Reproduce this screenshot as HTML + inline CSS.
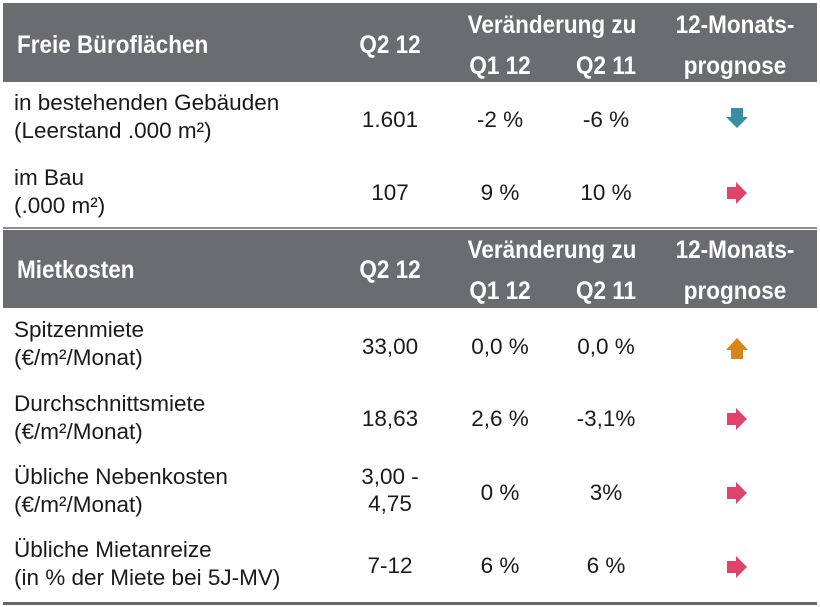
<!DOCTYPE html>
<html><head><meta charset="utf-8"><style>
body{margin:0;width:820px;height:607px;background:#fff;position:relative;overflow:hidden;font-family:"Liberation Sans",Arial,sans-serif;color:#1a1a1a}
.band{position:absolute;left:3px;width:814px;background:#6b6c6f}
.t{position:absolute;font-size:22.5px;line-height:28px;white-space:nowrap}
.h{color:#fff;font-weight:bold;font-size:25px;transform:scaleX(0.9);transform-origin:left center}
.c{transform:translateX(-50%);text-align:center}
.h.c{transform:translateX(-50%) scaleX(0.9);transform-origin:center center}
.line{position:absolute;left:3px;width:814px;height:2px;background:#8a8a8a}
svg{position:absolute}
</style></head><body>
<div class="band" style="top:3px;height:79px"></div>
<div class="band" style="top:230px;height:78px"></div>
<div class="line" style="top:227px"></div>
<div class="line" style="top:602px;height:3px;background:#666"></div>

<div class="t h" style="left:17px;top:31px">Freie Büroflächen</div>
<div class="t h c" style="left:390px;top:31px">Q2 12</div>
<div class="t h c" style="left:552px;top:11px">Veränderung zu</div>
<div class="t h c" style="left:500px;top:52px">Q1 12</div>
<div class="t h c" style="left:606px;top:52px">Q2 11</div>
<div class="t h c" style="left:735px;top:11px">12-Monats-</div>
<div class="t h c" style="left:735px;top:52px">prognose</div>

<div class="t" style="left:14px;top:89px">in bestehenden Gebäuden<br>(Leerstand .000 m²)</div>
<div class="t c" style="left:390px;top:106px">1.601</div>
<div class="t c" style="left:500px;top:106px">-2 %</div>
<div class="t c" style="left:606px;top:106px">-6 %</div>
<svg style="left:725px;top:106px" width="24" height="24" viewBox="0 0 24 24"><path d="M6 2h12v9h5L12 22 1 11h5z" fill="#3b8ea2"/></svg>

<div class="t" style="left:14px;top:164px">im Bau<br>(.000 m²)</div>
<div class="t c" style="left:390px;top:179px">107</div>
<div class="t c" style="left:500px;top:179px">9 %</div>
<div class="t c" style="left:606px;top:179px">10 %</div>
<svg style="left:725px;top:181px" width="24" height="24" viewBox="0 0 24 24"><path d="M2 6h9V1l11 11-11 11v-5H2z" fill="#e0446a"/></svg>

<div class="t h" style="left:17px;top:256px">Mietkosten</div>
<div class="t h c" style="left:390px;top:256px">Q2 12</div>
<div class="t h c" style="left:552px;top:236px">Veränderung zu</div>
<div class="t h c" style="left:500px;top:277px">Q1 12</div>
<div class="t h c" style="left:606px;top:277px">Q2 11</div>
<div class="t h c" style="left:735px;top:236px">12-Monats-</div>
<div class="t h c" style="left:735px;top:277px">prognose</div>

<div class="t" style="left:14px;top:316px">Spitzenmiete<br>(€/m²/Monat)</div>
<div class="t c" style="left:390px;top:333px">33,00</div>
<div class="t c" style="left:500px;top:333px">0,0 %</div>
<div class="t c" style="left:606px;top:333px">0,0 %</div>
<svg style="left:725px;top:336px" width="24" height="24" viewBox="0 0 24 24"><path d="M6 23h12v-9h5L12 2 1 14h5z" fill="#d98418"/></svg>

<div class="t" style="left:14px;top:390px">Durchschnittsmiete<br>(€/m²/Monat)</div>
<div class="t c" style="left:390px;top:405px">18,63</div>
<div class="t c" style="left:500px;top:405px">2,6 %</div>
<div class="t c" style="left:606px;top:405px">-3,1%</div>
<svg style="left:725px;top:407px" width="24" height="24" viewBox="0 0 24 24"><path d="M2 6h9V1l11 11-11 11v-5H2z" fill="#e0446a"/></svg>

<div class="t" style="left:14px;top:463px">Übliche Nebenkosten<br>(€/m²/Monat)</div>
<div class="t c" style="left:390px;top:463px;line-height:27px">3,00 -<br>4,75</div>
<div class="t c" style="left:500px;top:479px">0 %</div>
<div class="t c" style="left:606px;top:479px">3%</div>
<svg style="left:725px;top:481px" width="24" height="24" viewBox="0 0 24 24"><path d="M2 6h9V1l11 11-11 11v-5H2z" fill="#e0446a"/></svg>

<div class="t" style="left:14px;top:536px">Übliche Mietanreize<br>(in % der Miete bei 5J-MV)</div>
<div class="t c" style="left:390px;top:552px">7-12</div>
<div class="t c" style="left:500px;top:552px">6 %</div>
<div class="t c" style="left:606px;top:552px">6 %</div>
<svg style="left:725px;top:555px" width="24" height="24" viewBox="0 0 24 24"><path d="M2 6h9V1l11 11-11 11v-5H2z" fill="#e0446a"/></svg>
</body></html>
